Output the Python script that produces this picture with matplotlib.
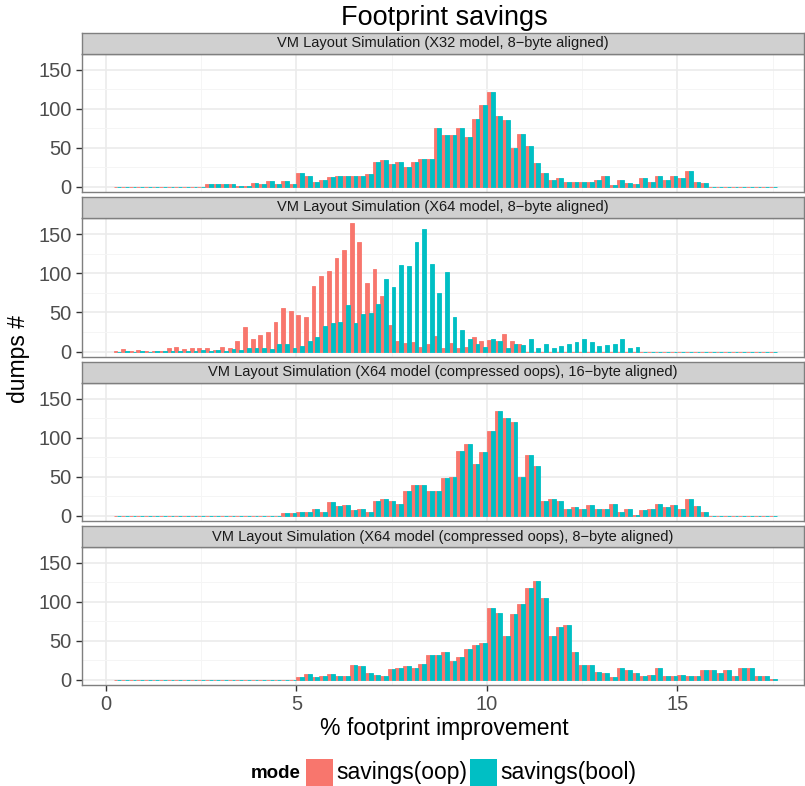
import numpy as np
import matplotlib
matplotlib.use("Agg")
import matplotlib.pyplot as plt
from matplotlib.patches import Rectangle

plt.rcParams['font.family'] = ['Liberation Sans', 'DejaVu Sans']

# Histogram bins (% footprint improvement), width 0.2
bin_start = 0.2
bin_width = 0.2
n_bins = 87

facet_titles = [
    "VM Layout Simulation (X32 model, 8\u2212byte aligned)",
    "VM Layout Simulation (X64 model, 8\u2212byte aligned)",
    "VM Layout Simulation (X64 model (compressed oops), 16\u2212byte aligned)",
    "VM Layout Simulation (X64 model (compressed oops), 8\u2212byte aligned)",
]

x32_oop = [0] * 12 + [3, 3, 3, 3, 1, 1, 5, 3, 7, 3, 7, 3, 17, 13, 6, 8, 12, 14, 14, 14,
           14, 16, 32, 34, 29, 32, 25, 32, 36, 36, 75, 66, 66, 75, 64, 87, 105, 121,
           91, 85, 50, 67, 52, 30, 18, 9, 11, 6, 6, 6, 6, 9, 13, 2, 9, 4, 3, 11, 6,
           14, 9, 13, 11, 20, 6, 4] + [0] * 9
x32_bool = [0] * 12 + [3, 3, 3, 3, 1, 1, 5, 3, 7, 3, 7, 3, 17, 13, 6, 8, 12, 14, 14, 14,
            14, 16, 32, 34, 29, 32, 25, 32, 36, 36, 75, 66, 66, 75, 64, 87, 105, 121,
            91, 85, 50, 67, 52, 30, 18, 9, 11, 6, 6, 6, 6, 9, 13, 2, 9, 4, 3, 11, 6,
            14, 9, 13, 11, 20, 6, 4] + [0] * 9

x64_oop = [1, 3, 1, 2, 1, 1, 1, 4, 6, 3, 4, 4, 4, 2, 6, 4, 14, 31, 16, 21, 25, 38,
           56, 52, 46, 44, 84, 97, 103, 119, 129, 164, 140, 87, 105, 71, 34, 14, 11,
           12, 6, 9, 20, 4, 11, 4, 6, 18, 13, 15, 13, 22, 13, 9] + [0] * 33
x64_bool = [0, 1, 0, 1, 0, 1, 1, 1, 1, 1, 1, 2, 1, 2, 1, 3, 2, 4, 4, 4, 3, 9, 9, 5,
            7, 14, 18, 32, 36, 38, 60, 36, 48, 49, 61, 93, 83, 111, 109, 140, 157,
            112, 75, 101, 44, 28, 16, 10, 6, 16, 14, 4, 9, 8, 16, 4, 9, 4, 7, 9, 12,
            16, 12, 7, 8, 10, 16, 4, 6] + [0] * 18

cx16_oop = [0] * 22 + [3, 3, 5, 5, 9, 5, 17, 12, 13, 7, 9, 5, 19, 21, 19, 15, 32, 39,
            39, 31, 31, 48, 50, 83, 92, 66, 82, 109, 135, 125, 120, 50, 78, 64, 19,
            21, 19, 9, 11, 9, 13, 9, 9, 15, 5, 9, 1, 7, 9, 15, 11, 14, 9, 21, 12,
            5] + [0] * 9
cx16_bool = [0] * 22 + [3, 3, 5, 5, 9, 5, 17, 12, 13, 7, 9, 5, 19, 21, 19, 15, 32, 39,
             39, 31, 31, 48, 50, 83, 92, 66, 82, 109, 135, 125, 120, 50, 78, 64, 19,
             21, 19, 9, 11, 9, 13, 9, 9, 15, 5, 9, 1, 7, 9, 15, 11, 14, 9, 21, 12,
             5] + [0] * 9

cx8_oop = [0] * 24 + [3, 7, 3, 5, 7, 5, 5, 19, 17, 9, 6, 5, 13, 15, 17, 15, 20, 31, 32,
           36, 24, 29, 39, 44, 47, 92, 86, 56, 84, 97, 118, 127, 105, 56, 68, 70, 36,
           19, 19, 10, 9, 3, 15, 12, 9, 5, 6, 15, 5, 5, 6, 5, 5, 12, 12, 9, 12, 5,
           15, 15, 5, 5, 1]
cx8_bool = [0] * 24 + [3, 7, 3, 5, 7, 5, 5, 19, 17, 9, 6, 5, 13, 15, 17, 15, 20, 31, 32,
            36, 24, 29, 39, 44, 47, 92, 86, 56, 84, 97, 118, 127, 105, 56, 68, 70, 36,
            19, 19, 10, 9, 3, 15, 12, 9, 5, 6, 15, 5, 5, 6, 5, 5, 12, 12, 9, 12, 5,
            15, 15, 5, 5, 1]

series = [(x32_oop, x32_bool), (x64_oop, x64_bool),
          (cx16_oop, cx16_bool), (cx8_oop, cx8_bool)]

mode_labels = ["savings(oop)", "savings(bool)"]
mode_colors = ["#F8766D", "#00BFC4"]

W, H = 805, 786
fig = plt.figure(figsize=(W / 100, H / 100), dpi=100)


def fig_rect(x0, y0, x1, y1):
    return [x0 / W, 1 - y1 / H, (x1 - x0) / W, (y1 - y0) / H]


panel_x = (81.5, 804.0)
panel_rows = [(54, 192), (218, 357), (383, 521), (547, 685)]
strip_rows = [(33, 54), (197, 218), (362, 383), (526, 547)]

edges = bin_start + bin_width * np.arange(n_bins)
half = bin_width / 2

for i, (title, (oop, boo)) in enumerate(zip(facet_titles, series)):
    y0, y1 = panel_rows[i]
    ax = fig.add_axes(fig_rect(panel_x[0], y0, panel_x[1], y1))
    ax.set_facecolor("white")
    ax.bar(edges, oop, width=half, align="edge", color=mode_colors[0],
           edgecolor=mode_colors[0], linewidth=0.6, zorder=3)
    ax.bar(edges + half, boo, width=half, align="edge", color=mode_colors[1],
           edgecolor=mode_colors[1], linewidth=0.6, zorder=3)
    ax.set_xlim(-0.64, 18.32)
    ax.set_ylim(-7, 170.5)
    ax.set_xticks([0, 5, 10, 15])
    ax.set_xticks([2.5, 7.5, 12.5, 17.5], minor=True)
    ax.set_yticks([0, 50, 100, 150])
    ax.set_yticks([25, 75, 125], minor=True)
    ax.grid(which="major", color="#EBEBEB", linewidth=1.2, zorder=0)
    ax.grid(which="minor", color="#F5F5F5", linewidth=0.7, zorder=0)
    ax.set_axisbelow(True)
    for s in ax.spines.values():
        s.set_color("#7F7F7F")
        s.set_linewidth(1.0)
    ax.tick_params(axis="y", which="major", length=4, width=1, color="#333333",
                   labelsize=14.5, labelcolor="#4D4D4D", pad=3)
    ax.tick_params(which="minor", length=0)
    if i < 3:
        ax.tick_params(axis="x", which="major", length=0, labelbottom=False)
    else:
        ax.tick_params(axis="x", which="major", length=4, width=1, color="#333333",
                       labelsize=14.5, labelcolor="#4D4D4D", pad=3)

    sy0, sy1 = strip_rows[i]
    sax = fig.add_axes(fig_rect(panel_x[0], sy0, panel_x[1], sy1))
    sax.set_facecolor("#D0D0D0")
    sax.set_xticks([])
    sax.set_yticks([])
    for s in sax.spines.values():
        s.set_color("#7F7F7F")
        s.set_linewidth(1.0)
    sax.text(0.5, 0.5, title, ha="center", va="center", fontsize=10.5,
             color="#1A1A1A", transform=sax.transAxes)

fig.text(444 / W, 1 - 18 / H, "Footprint savings", ha="center", va="center",
         fontsize=19.5, color="black")
fig.text(444 / W, 1 - 728 / H, "% footprint improvement", ha="center",
         va="center", fontsize=16.5, color="black")
fig.text(18 / W, 1 - 359 / H, "dumps #", ha="center", va="center",
         rotation=90, fontsize=16.5, color="black")

# legend along the bottom
fig.text(301 / W, 1 - 773 / H, "mode", ha="right", va="center",
         fontsize=13.5, fontweight="bold", color="black")
key_x = [306, 470]
for kx, lab, col in zip(key_x, mode_labels, mode_colors):
    fig.patches.append(Rectangle((kx / W, 1 - 786 / H), 27 / W, 27 / H,
                                 transform=fig.transFigure, facecolor=col,
                                 edgecolor="none"))
    fig.text((kx + 30) / W, 1 - 773 / H, lab, ha="left", va="center",
             fontsize=16.5, color="black")

fig.savefig("out.png", dpi=100)
